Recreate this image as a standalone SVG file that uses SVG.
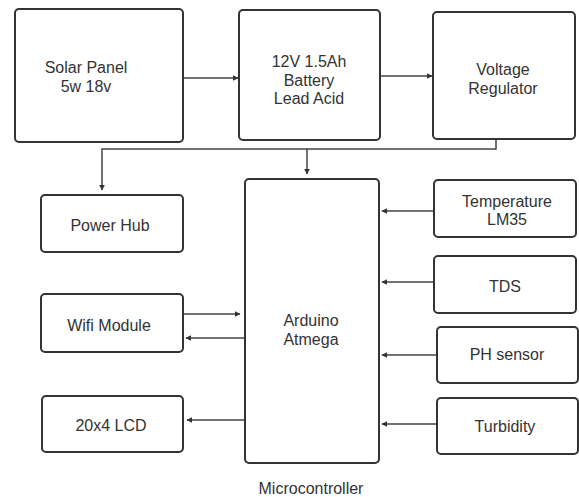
<svg xmlns="http://www.w3.org/2000/svg" width="579" height="497" viewBox="0 0 579 497">
<style>
.box{fill:#fff;stroke:#333;stroke-width:2}
.t{font-family:"Liberation Sans",Arial,sans-serif;font-size:16px;fill:#333;text-anchor:middle}
.c{fill:none;stroke:#444;stroke-width:1.5}
</style>
<defs>
<marker id="ah" viewBox="0 0 10 10" refX="9" refY="5" markerWidth="4" markerHeight="4" orient="auto" markerUnits="strokeWidth">
<path d="M0,0 L10,5 L0,10 z" fill="#333"/>
</marker>
</defs>
<rect width="579" height="497" fill="#fff"/>
<g id="connectors">
<line class="c" x1="183" y1="78" x2="238" y2="78" marker-end="url(#ah)"/>
<line class="c" x1="380" y1="76" x2="432" y2="76" marker-end="url(#ah)"/>
<polyline class="c" points="496,139 496,149 102,149 102,190" marker-end="url(#ah)"/>
<line class="c" x1="307" y1="149" x2="307" y2="174" marker-end="url(#ah)"/>
<line class="c" x1="184" y1="314" x2="240" y2="314" marker-end="url(#ah)"/>
<line class="c" x1="245" y1="338" x2="186" y2="338" marker-end="url(#ah)"/>
<line class="c" x1="245" y1="420" x2="187" y2="420" marker-end="url(#ah)"/>
<line class="c" x1="433" y1="211" x2="382" y2="211" marker-end="url(#ah)"/>
<line class="c" x1="433" y1="282" x2="382" y2="282" marker-end="url(#ah)"/>
<line class="c" x1="436" y1="355" x2="382" y2="355" marker-end="url(#ah)"/>
<line class="c" x1="436" y1="424" x2="382" y2="424" marker-end="url(#ah)"/>
</g>
<g id="solar"><rect class="box" x="15" y="9" width="168" height="133" rx="4"/><text class="t" x="86" y="73">Solar Panel</text><text class="t" x="86" y="92">5w 18v</text></g>
<g id="battery"><rect class="box" x="239" y="10" width="141" height="130" rx="4"/><text class="t" x="309" y="67">12V 1.5Ah</text><text class="t" x="309" y="86">Battery</text><text class="t" x="309" y="104">Lead Acid</text></g>
<g id="regulator"><rect class="box" x="433" y="12" width="142" height="127" rx="4"/><text class="t" x="503" y="75">Voltage</text><text class="t" x="503" y="94">Regulator</text></g>
<g id="powerhub"><rect class="box" x="41" y="195" width="142" height="57" rx="4"/><text class="t" x="110" y="231">Power Hub</text></g>
<g id="wifi"><rect class="box" x="41" y="294" width="142" height="58" rx="4"/><text class="t" x="109" y="331">Wifi Module</text></g>
<g id="lcd"><rect class="box" x="42" y="396" width="141" height="56" rx="4"/><text class="t" x="111" y="431">20x4 LCD</text></g>
<g id="arduino"><rect class="box" x="245" y="179" width="134" height="284" rx="4"/><text class="t" x="311" y="326">Arduino</text><text class="t" x="311" y="345">Atmega</text></g>
<g id="temperature"><rect class="box" x="434" y="180" width="142" height="57" rx="4"/><text class="t" x="507" y="207">Temperature</text><text class="t" x="507" y="225">LM35</text></g>
<g id="tds"><rect class="box" x="434" y="256" width="142" height="57" rx="4"/><text class="t" x="505" y="292">TDS</text></g>
<g id="ph"><rect class="box" x="437" y="327" width="141" height="56" rx="4"/><text class="t" x="507" y="360">PH sensor</text></g>
<g id="turbidity"><rect class="box" x="437" y="398" width="141" height="56" rx="4"/><text class="t" x="505" y="432">Turbidity</text></g>
<text class="t" x="311" y="494">Microcontroller</text>
</svg>
